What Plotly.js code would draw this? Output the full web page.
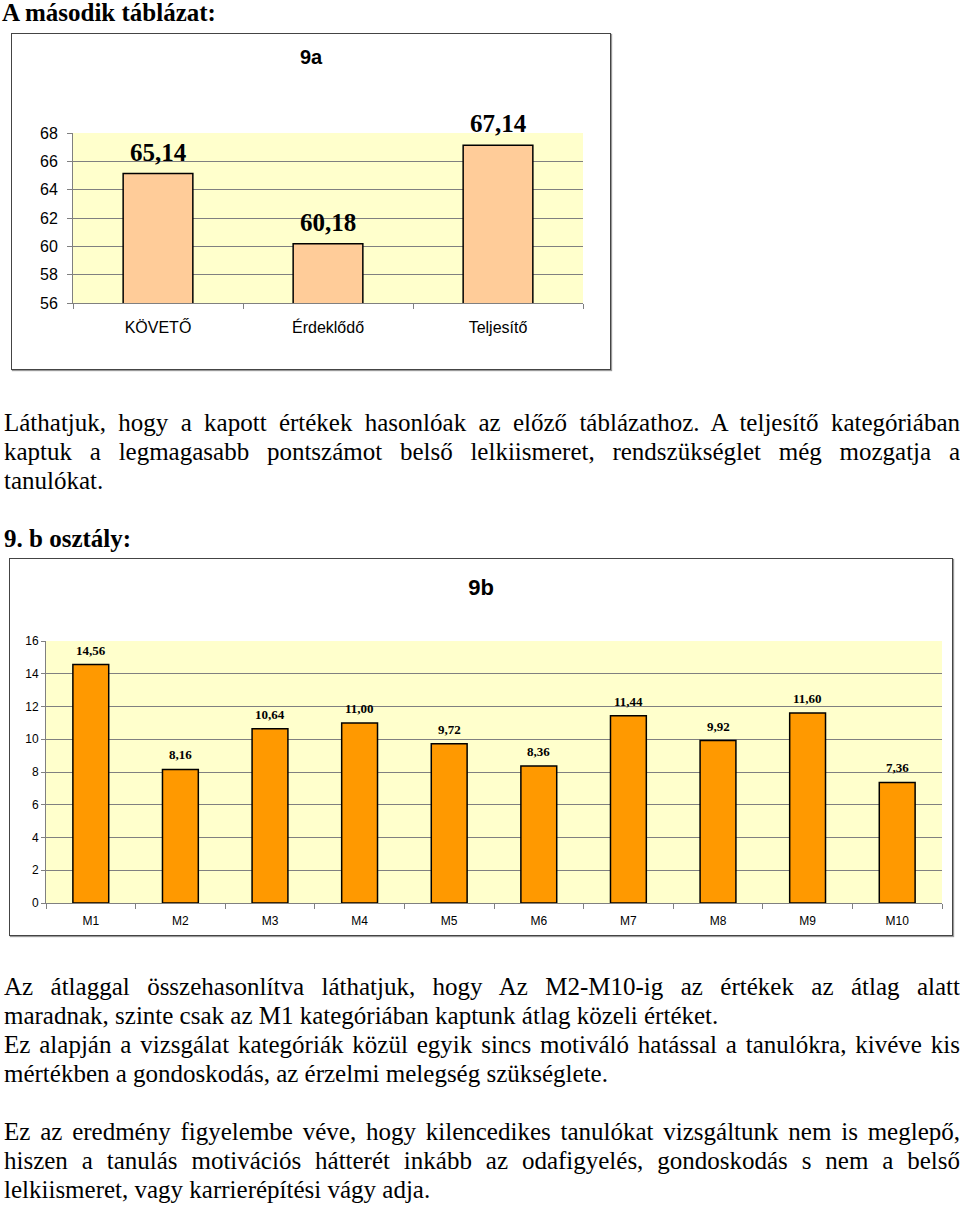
<!DOCTYPE html>
<html><head><meta charset="utf-8">
<script src="https://cdn.plot.ly/plotly-3.0.1.min.js"></script>
<style>
body{margin:0;background:#fff;width:960px;height:1207px;position:relative;overflow:hidden;font-family:"Liberation Serif","Times New Roman",serif;}
.t{position:absolute;left:4px;width:956px;font-size:25px;line-height:29px;white-space:nowrap;color:#000;}
.j{text-align:justify;text-align-last:justify;}
.h{font-weight:bold;font-size:25px;}
.chart{position:absolute;box-sizing:border-box;border:1px solid #444;box-shadow:1px 1px 1px #999;}
</style></head><body>
<div class="t h" style="top:-2px;left:2px">A második táblázat:</div>
<div id="c1" class="chart" style="left:11px;top:33px;width:600px;height:337px"></div>
<div class="t j" style="top:408px">Láthatjuk, hogy a kapott értékek hasonlóak az előző táblázathoz. A teljesítő kategóriában</div>
<div class="t j" style="top:437px">kaptuk a legmagasabb pontszámot belső lelkiismeret, rendszükséglet még mozgatja a</div>
<div class="t" style="top:466px">tanulókat.</div>
<div class="t h" style="top:524px">9. b osztály:</div>
<div id="c2" class="chart" style="left:9px;top:558px;width:944px;height:378px"></div>
<div class="t j" style="top:972px">Az átlaggal összehasonlítva láthatjuk, hogy Az M2-M10-ig az értékek az átlag alatt</div>
<div class="t" style="top:1001px">maradnak, szinte csak az M1 kategóriában kaptunk átlag közeli értéket.</div>
<div class="t j" style="top:1030px">Ez alapján a vizsgálat kategóriák közül egyik sincs motiváló hatással a tanulókra, kivéve kis</div>
<div class="t" style="top:1059px">mértékben a gondoskodás, az érzelmi melegség szükséglete.</div>
<div class="t j" style="top:1117px">Ez az eredmény figyelembe véve, hogy kilencedikes tanulókat vizsgáltunk nem is meglepő,</div>
<div class="t j" style="top:1146px">hiszen a tanulás motivációs hátterét inkább az odafigyelés, gondoskodás s nem a belső</div>
<div class="t" style="top:1175px">lelkiismeret, vagy karrierépítési vágy adja.</div>
<script>
const cats9a = ["KÖVETŐ", "Érdeklődő", "Teljesítő"];
const vals9a = [65.14, 60.18, 67.14];
const ticks9a = [56, 58, 60, 62, 64, 66, 68];
const cats9b = ["M1","M2","M3","M4","M5","M6","M7","M8","M9","M10"];
const vals9b = [14.56, 8.16, 10.64, 11.00, 9.72, 8.36, 11.44, 9.92, 11.60, 7.36];
const ticks9b = [0, 2, 4, 6, 8, 10, 12, 14, 16];

const cfg = {staticPlot:true, displayModeBar:false};
const sans = "Liberation Sans, Arial, sans-serif";
const serif = "Liberation Serif, Times New Roman, serif";
const fmt = v => v.toFixed(2).replace('.', ',');
const labels = (cats, vals, size, shift) => cats.map((c, i) => ({
  x: c, y: vals[i], text: '<b>' + fmt(vals[i]) + '</b>', showarrow: false,
  yanchor: 'bottom', yshift: shift, font: {family: serif, size: size, color: '#000'}
}));

Plotly.newPlot('c1', [{
  type:'bar', x:cats9a, y:vals9a, width:0.41, cliponaxis:false,
  marker:{color:'#FFCC99', line:{color:'#000', width:1.5}}
}], {
  width:598, height:335,
  margin:{l:61, r:27, t:99, b:66},
  paper_bgcolor:'#fff', plot_bgcolor:'#FFFFCC', showlegend:false,
  title:{text:'<b>9a</b>', font:{family:sans, size:20, color:'#000'}, x:0.5, xanchor:'center', y:0.93, yanchor:'middle'},
  xaxis:{tickfont:{family:sans, size:16, color:'#000'}, showline:true, linecolor:'#808080', ticks:'outside', tickson:'boundaries', ticklen:5, tickcolor:'#808080', showgrid:false, ticklabelstandoff:10},
  yaxis:{range:[56,68], tickvals:ticks9a, tickfont:{family:sans, size:16, color:'#000'}, showline:true, linecolor:'#808080', ticks:'outside', ticklen:5, tickcolor:'#808080', gridcolor:'#808080', gridwidth:1, zeroline:false, ticklabelstandoff:6},
  annotations: labels(cats9a, vals9a, 25, 6)
}, cfg);

Plotly.newPlot('c2', [{
  type:'bar', x:cats9b, y:vals9b, width:0.4, cliponaxis:false,
  marker:{color:'#FF9900', line:{color:'#000', width:1.5}}
}], {
  width:942, height:376,
  margin:{l:36, r:10, t:82, b:32},
  paper_bgcolor:'#fff', plot_bgcolor:'#FFFFCC', showlegend:false,
  title:{text:'<b>9b</b>', font:{family:sans, size:22, color:'#000'}, x:0.5, xanchor:'center', y:0.925, yanchor:'middle'},
  xaxis:{tickfont:{family:sans, size:12, color:'#000'}, showline:true, linecolor:'#808080', ticks:'outside', tickson:'boundaries', ticklen:5, tickcolor:'#808080', showgrid:false, ticklabelstandoff:7},
  yaxis:{range:[0,16], tickvals:ticks9b, tickfont:{family:sans, size:12, color:'#000'}, showline:true, linecolor:'#808080', ticks:'outside', ticklen:4, tickcolor:'#808080', gridcolor:'#808080', gridwidth:1, zeroline:false},
  annotations: labels(cats9b, vals9b, 13, 5)
}, cfg);
</script>
</body></html>
